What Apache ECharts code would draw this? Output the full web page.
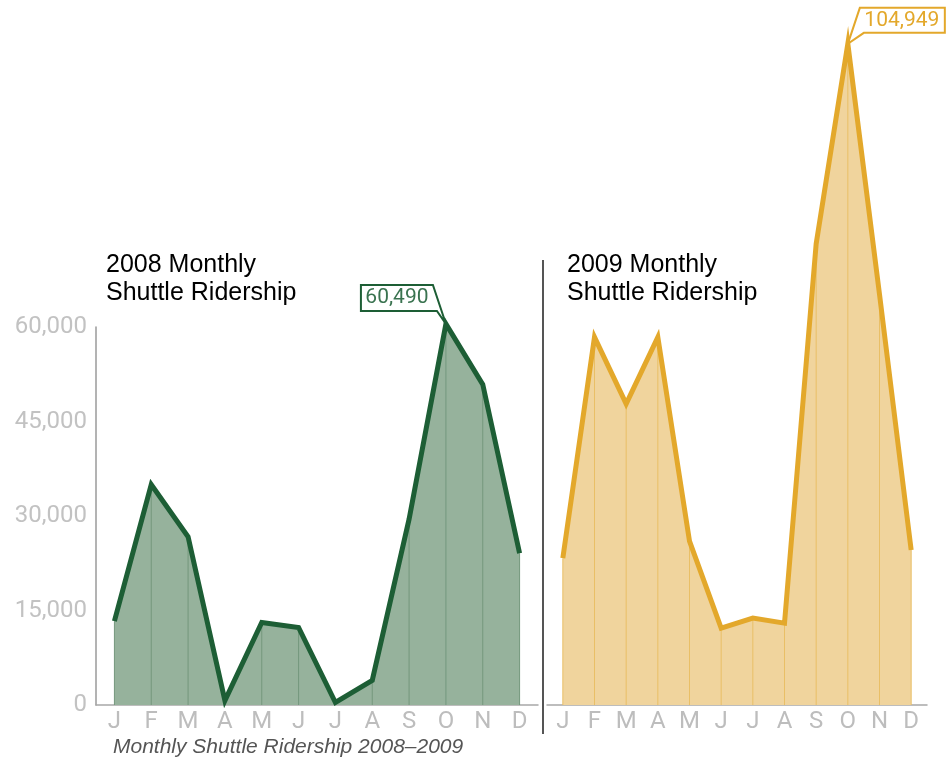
<!DOCTYPE html>
<html>
<head>
<meta charset="utf-8">
<title>Monthly Shuttle Ridership 2008–2009</title>
<script src="https://cdn.jsdelivr.net/npm/echarts@6/dist/echarts.min.js"></script>
<style>
  html, body { margin: 0; padding: 0; background: #fff; }
  #main { width: 947px; height: 762px; }
</style>
</head>
<body>
<div id="main"></div>
<script>
// data
const months = ["J", "F", "M", "A", "M", "J", "J", "A", "S", "O", "N", "D"];
const rides2008 = [13300, 35000, 26700, 700, 13100, 12300, 400, 3900, 29500, 60490, 50900, 24100];
const rides2009 = [23300, 58400, 47800, 58400, 26000, 12200, 13800, 13000, 73200, 104949, 65200, 24600];
const yMax2008 = 60000;
const yMax2009 = 105000;
const yStep = 15000;
const peak2008 = 9; // O
const peak2009 = 9; // O

const green = "#1d5e35";
const greenFill = "#96b29c";
const greenRule = "#74977d";
const gold = "#e3a82b";
const goldFill = "#f0d49d";
const goldRule = "#e9bf66";

const fmt = (v) => v.toLocaleString("en-US");

const chart = echarts.init(document.getElementById("main"));

const xAxisBase = {
  type: "category",
  data: months,
  boundaryGap: true,
  axisTick: { show: false },
  axisLine: { lineStyle: { color: "#a8a8a8", width: 1.5 } },
  axisLabel: {
    interval: 0,
    margin: 5,
    color: "#bdbdbd",
    fontSize: 24,
    fontFamily: "Roboto",
  },
};

const titleStyle = {
  color: "#000",
  fontSize: 25,
  fontWeight: "normal",
  fontFamily: "Liberation Sans",
  lineHeight: 28,
};

const option = {
  animation: false,
  backgroundColor: "#fff",
  title: [
    { text: "2008 Monthly\nShuttle Ridership", left: 106, top: 251, padding: 0, textStyle: titleStyle },
    { text: "2009 Monthly\nShuttle Ridership", left: 567, top: 251, padding: 0, textStyle: titleStyle },
    {
      text: "Monthly Shuttle Ridership 2008–2009",
      left: 113,
      top: 737,
      padding: 0,
      textStyle: { color: "#555", fontSize: 21, fontWeight: "normal", fontStyle: "italic", fontFamily: "Liberation Sans" },
    },
  ],
  grid: [
    { left: 96, top: 327, width: 442, height: 378 },
    { left: 547, top: 705 - (378 * yMax2009) / yMax2008, width: 380, height: (378 * yMax2009) / yMax2008 },
  ],
  xAxis: [
    Object.assign({ gridIndex: 0 }, xAxisBase),
    Object.assign({ gridIndex: 1 }, xAxisBase),
  ],
  yAxis: [
    {
      gridIndex: 0,
      type: "value",
      min: 0,
      max: yMax2008,
      interval: yStep,
      axisLine: { show: true, lineStyle: { color: "#9a9a9a", width: 1.5 } },
      axisTick: { show: false },
      splitLine: { show: false },
      axisLabel: {
        margin: 9,
        color: "#c2c2c2",
        fontSize: 24,
        fontFamily: "Roboto",
        formatter: fmt,
      },
    },
    {
      gridIndex: 1,
      type: "value",
      min: 0,
      max: yMax2009,
      show: false,
      splitLine: { show: false },
    },
  ],
  series: [
    // 2008: fill, month rules, outline
    {
      type: "line",
      xAxisIndex: 0,
      yAxisIndex: 0,
      data: rides2008,
      symbol: "none",
      clip: false,
      lineStyle: { width: 0 },
      areaStyle: { color: greenFill, opacity: 1 },
      z: 1,
    },
    {
      type: "bar",
      xAxisIndex: 0,
      yAxisIndex: 0,
      data: rides2008,
      barWidth: 1,
      itemStyle: { color: greenRule },
      z: 2,
    },
    {
      type: "line",
      xAxisIndex: 0,
      yAxisIndex: 0,
      data: rides2008,
      symbol: "none",
      clip: false,
      lineStyle: { width: 5, color: green, join: "miter" },
      z: 3,
    },
    // 2009
    {
      type: "line",
      xAxisIndex: 1,
      yAxisIndex: 1,
      data: rides2009,
      symbol: "none",
      lineStyle: { width: 0 },
      areaStyle: { color: goldFill, opacity: 1 },
      z: 1,
    },
    {
      type: "bar",
      xAxisIndex: 1,
      yAxisIndex: 1,
      data: rides2009,
      barWidth: 1,
      itemStyle: { color: goldRule },
      z: 2,
    },
    {
      type: "line",
      xAxisIndex: 1,
      yAxisIndex: 1,
      data: rides2009,
      symbol: "none",
      clip: false,
      lineStyle: { width: 5, color: gold, join: "miter" },
      z: 3,
    },
  ],
};

chart.setOption(option);

// callouts hang off the peak points
const p1 = chart.convertToPixel({ seriesIndex: 2 }, [peak2008, rides2008[peak2008]]);
const p2 = chart.convertToPixel({ seriesIndex: 5 }, [peak2009, rides2009[peak2009]]);

chart.setOption({
  graphic: [
    {
      type: "line",
      shape: { x1: 543, y1: 260, x2: 543, y2: 734 },
      style: { stroke: "#555", lineWidth: 2 },
    },
    {
      type: "polygon",
      z: 10,
      shape: {
        points: [
          [p1[0] - 85, p1[1] - 39],
          [p1[0] - 13, p1[1] - 39],
          [p1[0], p1[1]],
          [p1[0] - 9, p1[1] - 13],
          [p1[0] - 85, p1[1] - 13],
        ],
      },
      style: { fill: "#fff", stroke: green, lineWidth: 2 },
    },
    {
      type: "text",
      z: 11,
      x: p1[0] - 49,
      y: p1[1] - 26,
      style: {
        text: fmt(rides2008[peak2008]),
        fill: "#3a7350",
        font: "21px Roboto",
        align: "center",
        verticalAlign: "middle",
      },
    },
    {
      type: "polygon",
      z: 10,
      shape: {
        points: [
          [p2[0] + 12, p2[1] - 36],
          [p2[0] + 97, p2[1] - 36],
          [p2[0] + 97, p2[1] - 11],
          [p2[0] + 16, p2[1] - 11],
          [p2[0], p2[1]],
        ],
      },
      style: { fill: "#fff", stroke: gold, lineWidth: 2 },
    },
    {
      type: "text",
      z: 11,
      x: p2[0] + 54,
      y: p2[1] - 23,
      style: {
        text: fmt(rides2009[peak2009]),
        fill: gold,
        font: "21px Roboto",
        align: "center",
        verticalAlign: "middle",
      },
    },
  ],
});
</script>
</body>
</html>
